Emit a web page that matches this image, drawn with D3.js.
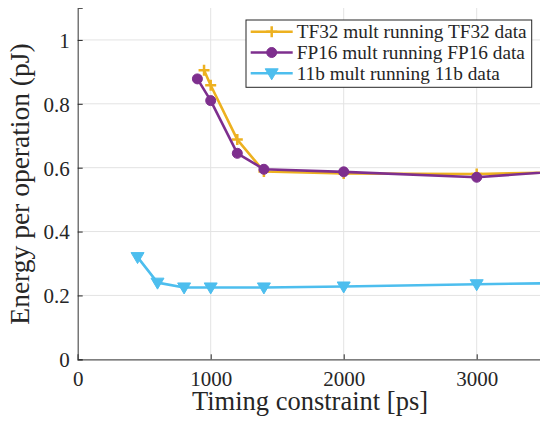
<!DOCTYPE html>
<html lang="en">
<head>
	<title>Energy per operation</title>
	<script src="https://d3js.org/d3.v7.min.js" charset="utf-8"></script>
	<style>
		body { margin: 0; background: #fff; }
	</style>
</head>
<body>

	<script>

	var width = 540, height = 422
	var serif = "'Liberation Serif'"

	// data
	var tf32X = [950, 1000, 1200, 1400, 2000, 3000, 4000]
	var tf32Y = [0.905, 0.858, 0.688, 0.588, 0.582, 0.580, 0.589]

	var fp16X = [900, 1000, 1200, 1400, 2000, 3000, 4000]
	var fp16Y = [0.878, 0.810, 0.645, 0.595, 0.587, 0.570, 0.600]

	var b11X = [450, 600, 800, 1000, 1400, 2000, 3000, 4000]
	var b11Y = [0.320, 0.240, 0.225, 0.225, 0.225, 0.228, 0.235, 0.241]

	var xTicks = [0, 1000, 2000, 3000]
	var yTicks = [0, 0.2, 0.4, 0.6, 0.8, 1]
	var seriesNames = ["TF32 mult running TF32 data", "FP16 mult running FP16 data", "11b mult running 11b data"]

	// plot box (window.top is reserved, so no "top" here)
	var boxL = 77.7, boxR = 543.2, boxT = 8, boxB = 359.3

	var svg = d3.select("body").append("svg")
		.attr("width", width)
		.attr("height", height)

	var x = d3.scaleLinear().domain([0, 3500]).range([boxL, boxR])
	var y = d3.scaleLinear().domain([0, 1.1]).range([boxB, boxT])

	svg.append("clipPath").attr("id", "plot")
		.append("rect")
		.attr("x", boxL).attr("y", boxT)
		.attr("width", boxR - boxL).attr("height", boxB - boxT)

	// grid
	var grid = svg.append("g")
	grid.selectAll(".gx").data(xTicks.slice(1)).enter().append("line")
		.attr("x1", d => x(d)).attr("x2", d => x(d))
		.attr("y1", boxT).attr("y2", boxB)
		.attr("stroke", "#e3e3e3").attr("stroke-width", 1)
	grid.selectAll(".gy").data(yTicks.slice(1)).enter().append("line")
		.attr("x1", boxL).attr("x2", boxR)
		.attr("y1", d => y(d)).attr("y2", d => y(d))
		.attr("stroke", "#e3e3e3").attr("stroke-width", 1)

	// axes
	var xAxis = svg.append("g")
		.attr("transform", "translate(0," + boxB + ")")
		.call(d3.axisBottom(x).tickValues(xTicks).tickSize(-5).tickPadding(12).tickFormat(d3.format("d")))
	var yAxis = svg.append("g")
		.attr("transform", "translate(" + boxL + ",0)")
		.call(d3.axisLeft(y).tickValues(yTicks).tickSize(-5).tickPadding(8).tickFormat(d => d))

	svg.selectAll(".domain").attr("stroke", "#555").attr("stroke-width", 1.2)
	svg.selectAll(".tick line").attr("stroke", "#262626").attr("stroke-width", 1)
	xAxis.attr("font-family", null).attr("font-size", null)
	yAxis.attr("font-family", null).attr("font-size", null)
	svg.selectAll(".tick text")
		.style("font-family", serif).style("font-size", "21px").attr("fill", "#262626")
	xAxis.selectAll(".tick text").attr("dy", "0.71em")
	yAxis.selectAll(".tick text").attr("dy", "0.35em")

	svg.append("text")
		.attr("x", 310).attr("y", 410)
		.attr("text-anchor", "middle")
		.style("font-family", serif).style("font-size", "26.5px").attr("fill", "#262626")
		.text("Timing constraint [ps]")

	svg.append("text")
		.attr("transform", "translate(29,184) rotate(-90)")
		.attr("text-anchor", "middle")
		.style("font-family", serif).style("font-size", "27.5px").attr("fill", "#262626")
		.text("Energy per operation (pJ)")

	var colors = ["#EDB120", "#7E2F8E", "#4DBEEE"]
	var series = [
		tf32X.map((v, i) => [v, tf32Y[i]]),
		fp16X.map((v, i) => [v, fp16Y[i]]),
		b11X.map((v, i) => [v, b11Y[i]])
	]

	var line = d3.line().x(d => x(d[0])).y(d => y(d[1]))

	function marker(g, k, cx, cy) {
		if (k == 0) {
			g.append("path")
				.attr("d", "M" + (cx - 5.5) + "," + cy + "H" + (cx + 5.5) + "M" + cx + "," + (cy - 5.5) + "V" + (cy + 5.5))
				.attr("stroke", colors[k]).attr("stroke-width", 2.5).attr("fill", "none")
		} else if (k == 1) {
			g.append("circle").attr("cx", cx).attr("cy", cy).attr("r", 5)
				.attr("fill", colors[k]).attr("stroke", colors[k]).attr("stroke-width", 1)
		} else {
			g.append("path")
				.attr("d", "M" + (cx - 6.5) + "," + (cy - 4.5) + "L" + (cx + 6.5) + "," + (cy - 4.5) + "L" + cx + "," + (cy + 6.5) + "Z")
				.attr("fill", colors[k]).attr("stroke", colors[k]).attr("stroke-width", 1)
		}
	}

	var plot = svg.append("g").attr("clip-path", "url(#plot)")
	series.forEach(function(s, k) {
		plot.append("path")
			.datum(s)
			.attr("d", line)
			.attr("fill", "none")
			.attr("stroke", colors[k])
			.attr("stroke-width", 2.6)
			.attr("stroke-linejoin", "round")
		s.forEach(d => marker(plot, k, x(d[0]), y(d[1])))
	})

	// legend
	var lg = svg.append("g")
	lg.append("rect")
		.attr("x", 246).attr("y", 20).attr("width", 285.7).attr("height", 67.3)
		.attr("fill", "#fff").attr("stroke", "#262626").attr("stroke-width", 1)
	seriesNames.forEach(function(name, k) {
		var ly = 31.7 + k * 20.8
		lg.append("line")
			.attr("x1", 250.7).attr("x2", 292.7).attr("y1", ly).attr("y2", ly)
			.attr("stroke", colors[k]).attr("stroke-width", 2.6)
		marker(lg, k, 271.7, ly)
		lg.append("text")
			.attr("x", 296.7).attr("y", ly).attr("dy", "0.33em")
			.style("font-family", serif).style("font-size", "19.3px").attr("fill", "#262626")
			.text(name)
	})

	</script>
</body>
</html>
